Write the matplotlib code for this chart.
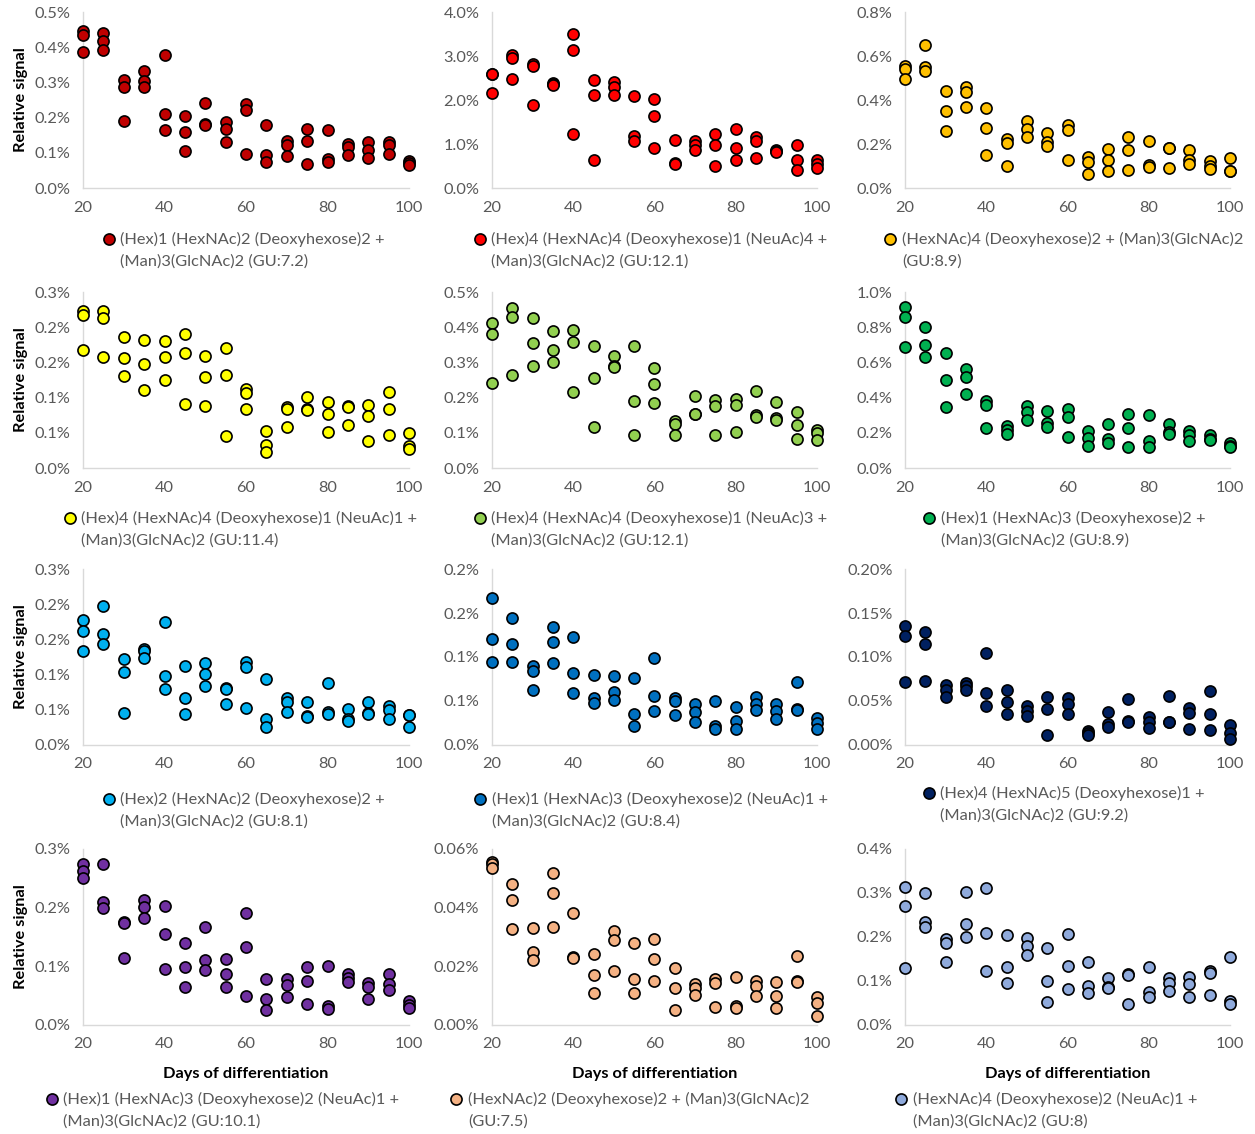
import matplotlib
matplotlib.use("Agg")
import matplotlib.pyplot as plt

plt.rcParams["font.family"] = ["Lato", "DejaVu Sans"]

# sampling days (x axis, shared by all panels)
days = [20, 25, 30, 35, 40, 45, 50, 55, 60, 65, 70, 75, 80, 85, 90, 95, 100]

# relative signal (%) per day, replicate values
glycan_72 = [[0.447, 0.434, 0.385], [0.440, 0.419, 0.391], [0.308, 0.288, 0.189],
             [0.331, 0.303, 0.286], [0.379, 0.210, 0.165], [0.205, 0.158, 0.106],
             [0.241, 0.182, 0.180], [0.187, 0.169, 0.131], [0.239, 0.222, 0.097],
             [0.180, 0.095, 0.074], [0.133, 0.121, 0.090], [0.168, 0.133, 0.068],
             [0.165, 0.083, 0.073], [0.125, 0.116, 0.095], [0.131, 0.107, 0.085],
             [0.131, 0.121, 0.098], [0.076, 0.070, 0.066]]
glycan_121a = [[2.60, 2.59, 2.17], [3.03, 2.95, 2.47], [2.81, 2.78, 1.89],
               [2.39, 2.37, 2.35], [3.50, 3.13, 1.23], [2.45, 2.12, 0.63],
               [2.41, 2.29, 2.11], [2.08, 1.19, 1.06], [2.02, 1.64, 0.92],
               [1.08, 0.57, 0.55], [1.06, 0.98, 0.87], [1.23, 0.98, 0.51],
               [1.33, 0.91, 0.64], [1.16, 1.06, 0.69], [0.87, 0.85, 0.82],
               [0.97, 0.63, 0.40], [0.63, 0.55, 0.45]]
glycan_89a = [[0.556, 0.541, 0.497], [0.652, 0.548, 0.530], [0.442, 0.348, 0.258],
              [0.459, 0.436, 0.368], [0.364, 0.273, 0.148], [0.224, 0.203, 0.098],
              [0.303, 0.270, 0.232], [0.250, 0.208, 0.192], [0.288, 0.265, 0.129],
              [0.141, 0.118, 0.065], [0.177, 0.129, 0.079], [0.232, 0.173, 0.082],
              [0.212, 0.103, 0.097], [0.183, 0.182, 0.091], [0.173, 0.126, 0.109],
              [0.124, 0.102, 0.088], [0.138, 0.079, 0.076]]
glycan_114 = [[0.2235, 0.2169, 0.1681], [0.2235, 0.2131, 0.1572], [0.1856, 0.1563, 0.1302],
              [0.1823, 0.1482, 0.1113], [0.1809, 0.1572, 0.1245], [0.1903, 0.1634, 0.0914],
              [0.1586, 0.1288, 0.0876], [0.1705, 0.1316, 0.0450], [0.1122, 0.1061, 0.0838],
              [0.0521, 0.0331, 0.0227], [0.0862, 0.0843, 0.0578], [0.1004, 0.0843, 0.0824],
              [0.0938, 0.0767, 0.0507], [0.0876, 0.0870, 0.0616], [0.0900, 0.0743, 0.0388],
              [0.1075, 0.0838, 0.0464], [0.0492, 0.0308, 0.0270]]
glycan_121b = [[0.412, 0.381, 0.241], [0.455, 0.428, 0.265], [0.426, 0.355, 0.289],
               [0.390, 0.336, 0.301], [0.393, 0.358, 0.215], [0.348, 0.256, 0.116],
               [0.317, 0.289, 0.286], [0.348, 0.189, 0.093], [0.284, 0.239, 0.185],
               [0.134, 0.125, 0.095], [0.204, 0.153, 0.152], [0.194, 0.175, 0.093],
               [0.197, 0.178, 0.101], [0.218, 0.150, 0.144], [0.188, 0.142, 0.137],
               [0.159, 0.123, 0.083], [0.109, 0.099, 0.080]]
glycan_89b = [[0.913, 0.856, 0.686], [0.801, 0.697, 0.631], [0.653, 0.502, 0.345],
              [0.564, 0.515, 0.422], [0.379, 0.360, 0.227], [0.237, 0.214, 0.193],
              [0.350, 0.318, 0.275], [0.326, 0.256, 0.231], [0.335, 0.290, 0.176],
              [0.212, 0.170, 0.125], [0.252, 0.167, 0.140], [0.307, 0.227, 0.117],
              [0.303, 0.152, 0.117], [0.252, 0.203, 0.195], [0.212, 0.189, 0.152],
              [0.186, 0.167, 0.157], [0.144, 0.125, 0.117]]
glycan_81 = [[0.1776, 0.1619, 0.1335], [0.1974, 0.1572, 0.1439], [0.1222, 0.1032, 0.0450],
             [0.1359, 0.1335, 0.1241], [0.1742, 0.0980, 0.0795], [0.1122, 0.0672, 0.0436],
             [0.1170, 0.1009, 0.0838], [0.0805, 0.0800, 0.0578], [0.1184, 0.1103, 0.0521],
             [0.0933, 0.0369, 0.0260], [0.0663, 0.0606, 0.0473], [0.0616, 0.0417, 0.0402],
             [0.0876, 0.0464, 0.0436], [0.0507, 0.0365, 0.0346], [0.0616, 0.0450, 0.0440],
             [0.0554, 0.0497, 0.0369], [0.0426, 0.0420, 0.0260]]
glycan_84 = [[0.1674, 0.1205, 0.0939], [0.1439, 0.1152, 0.0939], [0.0898, 0.0841, 0.0625],
             [0.1341, 0.1167, 0.0932], [0.1227, 0.0814, 0.0587], [0.0795, 0.0538, 0.0473],
             [0.0788, 0.0606, 0.0511], [0.0758, 0.0352, 0.0220], [0.0985, 0.0557, 0.0390],
             [0.0538, 0.0500, 0.0341], [0.0466, 0.0379, 0.0258], [0.0500, 0.0216, 0.0182],
             [0.0436, 0.0273, 0.0182], [0.0549, 0.0466, 0.0398], [0.0462, 0.0390, 0.0292],
             [0.0712, 0.0405, 0.0398], [0.0303, 0.0246, 0.0182]]
glycan_92 = [[0.1352, 0.1242, 0.0720], [0.1288, 0.1152, 0.0731], [0.0682, 0.0625, 0.0549],
             [0.0708, 0.0670, 0.0625], [0.1042, 0.0587, 0.0447], [0.0625, 0.0492, 0.0348],
             [0.0447, 0.0390, 0.0333], [0.0549, 0.0405, 0.0114], [0.0538, 0.0462, 0.0348],
             [0.0159, 0.0133, 0.0114], [0.0371, 0.0235, 0.0208], [0.0523, 0.0273, 0.0258],
             [0.0322, 0.0265, 0.0189], [0.0561, 0.0265, 0.0258], [0.0417, 0.0360, 0.0182],
             [0.0617, 0.0348, 0.0170], [0.0227, 0.0133, 0.0064]]
glycan_101 = [[0.2739, 0.2625, 0.2500], [0.2739, 0.2102, 0.1989], [0.1761, 0.1733, 0.1148],
              [0.2131, 0.2006, 0.1818], [0.2028, 0.1545, 0.0955], [0.1392, 0.0994, 0.0642],
              [0.1665, 0.1108, 0.0938], [0.1119, 0.0864, 0.0653], [0.1903, 0.1324, 0.0500],
              [0.0778, 0.0438, 0.0256], [0.0778, 0.0682, 0.0472], [0.0983, 0.0750, 0.0358],
              [0.1011, 0.0330, 0.0273], [0.0864, 0.0807, 0.0727], [0.0722, 0.0642, 0.0438],
              [0.0869, 0.0699, 0.0597], [0.0409, 0.0341, 0.0284]]
glycan_75 = [[0.0557, 0.0548, 0.0534], [0.0480, 0.0426, 0.0327], [0.0332, 0.0250, 0.0220],
             [0.0519, 0.0449, 0.0333], [0.0381, 0.0233, 0.0230], [0.0242, 0.0170, 0.0110],
             [0.0322, 0.0289, 0.0184], [0.0278, 0.0157, 0.0110], [0.0293, 0.0224, 0.0150],
             [0.0194, 0.0127, 0.0051], [0.0139, 0.0125, 0.0102], [0.0156, 0.0144, 0.0060],
             [0.0165, 0.0066, 0.0057], [0.0150, 0.0133, 0.0099], [0.0148, 0.0099, 0.0057],
             [0.0234, 0.0150, 0.0148], [0.0097, 0.0075, 0.0032]]
glycan_80 = [[0.3144, 0.2705, 0.1303], [0.2992, 0.2333, 0.2220], [0.1955, 0.1856, 0.1439],
             [0.3030, 0.2288, 0.2008], [0.3106, 0.2083, 0.1227], [0.2045, 0.1311, 0.0962],
             [0.1970, 0.1803, 0.1591], [0.1758, 0.1008, 0.0515], [0.2068, 0.1348, 0.0818],
             [0.1439, 0.0886, 0.0720], [0.1076, 0.0871, 0.0833], [0.1159, 0.1136, 0.0477],
             [0.1311, 0.0742, 0.0644], [0.1076, 0.0947, 0.0780], [0.1098, 0.0932, 0.0644],
             [0.1235, 0.1174, 0.0682], [0.1538, 0.0553, 0.0477]]

series = [glycan_72, glycan_121a, glycan_89a,
          glycan_114, glycan_121b, glycan_89b,
          glycan_81, glycan_84, glycan_92,
          glycan_101, glycan_75, glycan_80]

labels = [
    ("(Hex)1 (HexNAc)2 (Deoxyhexose)2 +", "(Man)3(GlcNAc)2 (GU:7.2)"),
    ("(Hex)4 (HexNAc)4 (Deoxyhexose)1 (NeuAc)4 +", "(Man)3(GlcNAc)2 (GU:12.1)"),
    ("(HexNAc)4 (Deoxyhexose)2 + (Man)3(GlcNAc)2", "(GU:8.9)"),
    ("(Hex)4 (HexNAc)4 (Deoxyhexose)1 (NeuAc)1 +", "(Man)3(GlcNAc)2 (GU:11.4)"),
    ("(Hex)4 (HexNAc)4 (Deoxyhexose)1 (NeuAc)3 +", "(Man)3(GlcNAc)2 (GU:12.1)"),
    ("(Hex)1 (HexNAc)3 (Deoxyhexose)2 +", "(Man)3(GlcNAc)2 (GU:8.9)"),
    ("(Hex)2 (HexNAc)2 (Deoxyhexose)2 +", "(Man)3(GlcNAc)2 (GU:8.1)"),
    ("(Hex)1 (HexNAc)3 (Deoxyhexose)2 (NeuAc)1 +", "(Man)3(GlcNAc)2 (GU:8.4)"),
    ("(Hex)4 (HexNAc)5 (Deoxyhexose)1 +", "(Man)3(GlcNAc)2 (GU:9.2)"),
    ("(Hex)1 (HexNAc)3 (Deoxyhexose)2 (NeuAc)1 +", "(Man)3(GlcNAc)2 (GU:10.1)"),
    ("(HexNAc)2 (Deoxyhexose)2 + (Man)3(GlcNAc)2", "(GU:7.5)"),
    ("(HexNAc)4 (Deoxyhexose)2 (NeuAc)1 +", "(Man)3(GlcNAc)2 (GU:8)"),
]

colors = ["#C00000", "#FF0000", "#FFC000",
          "#FFFF00", "#92D050", "#00B050",
          "#00B0F0", "#0070C0", "#002060",
          "#7030A0", "#F4B183", "#8FAADC"]

# y ticks and their labels (Excel rounds the labels to the axis number format)
yticks = [
    [0, 0.1, 0.2, 0.3, 0.4, 0.5],
    [0, 1, 2, 3, 4],
    [0, 0.2, 0.4, 0.6, 0.8],
    [0, 0.05, 0.10, 0.15, 0.20, 0.25],
    [0, 0.1, 0.2, 0.3, 0.4, 0.5],
    [0, 0.2, 0.4, 0.6, 0.8, 1.0],
    [0, 0.05, 0.10, 0.15, 0.20, 0.25],
    [0, 0.05, 0.10, 0.15, 0.20],
    [0, 0.05, 0.10, 0.15, 0.20],
    [0, 0.1, 0.2, 0.3],
    [0, 0.02, 0.04, 0.06],
    [0, 0.1, 0.2, 0.3, 0.4],
]
yticklabels = [
    ["0.0%", "0.1%", "0.2%", "0.3%", "0.4%", "0.5%"],
    ["0.0%", "1.0%", "2.0%", "3.0%", "4.0%"],
    ["0.0%", "0.2%", "0.4%", "0.6%", "0.8%"],
    ["0.0%", "0.1%", "0.1%", "0.2%", "0.2%", "0.3%"],
    ["0.0%", "0.1%", "0.2%", "0.3%", "0.4%", "0.5%"],
    ["0.0%", "0.2%", "0.4%", "0.6%", "0.8%", "1.0%"],
    ["0.0%", "0.1%", "0.1%", "0.2%", "0.2%", "0.3%"],
    ["0.0%", "0.1%", "0.1%", "0.2%", "0.2%"],
    ["0.00%", "0.05%", "0.10%", "0.15%", "0.20%"],
    ["0.0%", "0.1%", "0.2%", "0.3%"],
    ["0.00%", "0.02%", "0.04%", "0.06%"],
    ["0.0%", "0.1%", "0.2%", "0.3%", "0.4%"],
]
xticks = [20, 40, 60, 80, 100]

W, H = 1255, 1134
fig = plt.figure(figsize=(W / 100, H / 100), dpi=100)

# axes boxes in pixels: (left, right) per column, (top, bottom) per row
col_px = [(83, 409), (492, 817), (905, 1230)]
row_px = [(12, 188), (292, 468), (569, 745), (849, 1025)]
# legend placement: marker x, text x, first line y
legend_px = [(109, 120, 239), (480, 491, 239), (890, 902, 239),
             (70, 81, 518), (480, 491, 518), (929, 941, 518),
             (109, 120, 799), (480, 492, 799), (929, 940, 793),
             (52, 63, 1099), (456, 468, 1099), (901, 913, 1099)]

grey = "#595959"
axis_grey = "#D9D9D9"
fs = 11.8

for i, data in enumerate(series):
    r, c = divmod(i, 3)
    x0, x1 = col_px[c]
    y0, y1 = row_px[r]
    ax = fig.add_axes([x0 / W, 1 - y1 / H, (x1 - x0) / W, (y1 - y0) / H])

    xs = [d for d, reps in zip(days, data) for _ in reps]
    ys = [v for reps in data for v in reps]
    ax.scatter(xs, ys, s=64, color=colors[i], edgecolors="black",
               linewidths=1.2, zorder=3, clip_on=False)

    ax.set_xlim(20, 100)
    ax.set_ylim(yticks[i][0], yticks[i][-1])
    ax.set_xticks(xticks)
    ax.set_yticks(yticks[i])
    ax.set_yticklabels(yticklabels[i])
    for side in ("top", "right"):
        ax.spines[side].set_visible(False)
    for side in ("left", "bottom"):
        ax.spines[side].set_color(axis_grey)
        ax.spines[side].set_linewidth(1.0)
    ax.tick_params(length=0, labelsize=fs, labelcolor=grey, pad=9)
    ax.set_facecolor("none")

    if c == 0:
        ax.set_ylabel("Relative signal", fontsize=fs, fontweight="bold",
                      labelpad=5)
    if r == 3:
        ax.set_xlabel("Days of differentiation", fontsize=fs,
                      fontweight="bold", labelpad=11)

    mx, tx, ly = legend_px[i]
    fig.lines.append(plt.Line2D([mx / W], [1 - ly / H], marker="o",
                                markersize=8, markerfacecolor=colors[i],
                                markeredgecolor="black", markeredgewidth=1.2,
                                linestyle="none", transform=fig.transFigure))
    fig.text(tx / W, 1 - ly / H, labels[i][0], fontsize=fs, color=grey,
             va="center", ha="left")
    fig.text(tx / W, 1 - (ly + 23) / H, labels[i][1], fontsize=fs,
             color=grey, va="center", ha="left")

fig.savefig("out.png", dpi=100)
